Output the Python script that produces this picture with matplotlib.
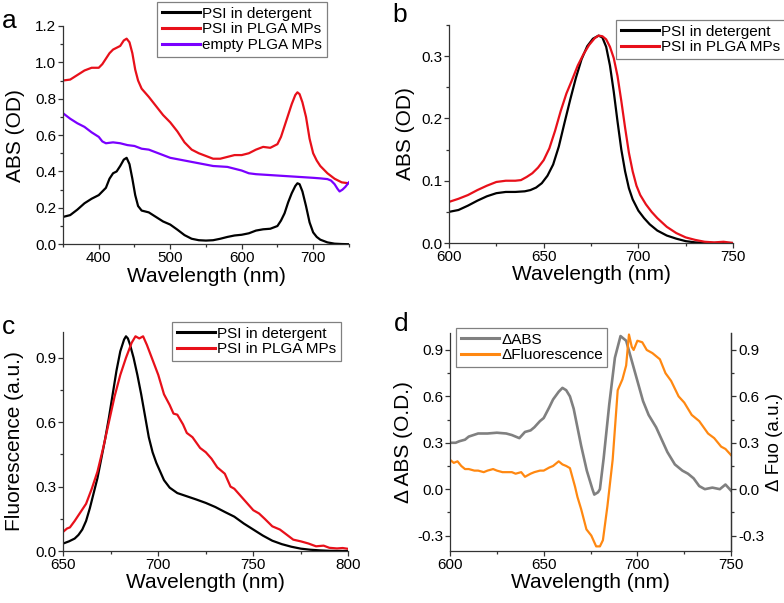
import matplotlib
matplotlib.use("Agg")
import matplotlib.pyplot as plt
from matplotlib.ticker import MultipleLocator, FormatStrFormatter

plt.rcParams['font.family'] = ['Liberation Sans', 'DejaVu Sans']

# ---------------- Panel a data ----------------
a_wl_black = [350, 360, 370, 380, 390, 400, 410, 415, 420, 425, 430, 435, 439, 443, 447, 451, 455, 460,
              470, 480, 490, 500, 510, 520, 530, 540, 550, 560, 570, 580, 590, 600, 610, 620, 630, 640,
              650, 655, 660, 665, 670, 675, 678, 681, 685, 690, 695, 700, 705, 710, 720, 730, 740, 750]
a_black = [0.15, 0.16, 0.19, 0.225, 0.25, 0.27, 0.31, 0.36, 0.39, 0.40, 0.43, 0.465, 0.475, 0.44, 0.36, 0.27,
           0.21, 0.185, 0.175, 0.15, 0.125, 0.108, 0.08, 0.05, 0.03, 0.022, 0.02, 0.022, 0.03, 0.04, 0.048,
           0.052, 0.06, 0.075, 0.082, 0.085, 0.10, 0.13, 0.17, 0.23, 0.28, 0.32, 0.335, 0.33, 0.29, 0.21, 0.12,
           0.065, 0.04, 0.025, 0.01, 0.003, 0.001, 0.0]

a_wl_red = [350, 360, 370, 380, 390, 400, 405, 410, 415, 420, 425, 430, 435, 439, 443, 447, 451, 455, 460,
            470, 480, 490, 500, 510, 520, 530, 540, 550, 560, 570, 580, 590, 600, 610, 620, 630, 640, 650,
            655, 660, 665, 670, 675, 678, 681, 685, 690, 695, 700, 705, 710, 720, 730, 740, 750]
a_red = [0.90, 0.905, 0.93, 0.955, 0.97, 0.97, 0.99, 1.02, 1.05, 1.07, 1.08, 1.09, 1.12, 1.13, 1.11, 1.05,
         0.96, 0.90, 0.855, 0.81, 0.76, 0.71, 0.67, 0.62, 0.56, 0.52, 0.50, 0.485, 0.47, 0.47, 0.48, 0.49,
         0.49, 0.50, 0.52, 0.535, 0.53, 0.55, 0.59, 0.65, 0.71, 0.77, 0.82, 0.835, 0.825, 0.78, 0.70, 0.58,
         0.50, 0.46, 0.43, 0.39, 0.36, 0.34, 0.335]

a_wl_purple = [350, 360, 370, 380, 390, 400, 405, 410, 420, 430, 440, 450, 460, 470, 480, 490, 500, 520,
               540, 560, 580, 600, 610, 620, 640, 660, 680, 700, 710, 720, 725, 730, 734, 737, 741, 745, 750]
a_purple = [0.72, 0.69, 0.665, 0.645, 0.615, 0.59, 0.565, 0.555, 0.56, 0.555, 0.545, 0.54, 0.525, 0.52,
            0.505, 0.49, 0.475, 0.46, 0.445, 0.43, 0.425, 0.405, 0.39, 0.385, 0.38, 0.375, 0.37, 0.365,
            0.362, 0.358, 0.35, 0.33, 0.305, 0.29, 0.30, 0.315, 0.34]

# ---------------- Panel b data ----------------
b_wl_black = [600, 605, 610, 615, 620, 625, 630, 635, 640, 643, 646, 649, 652, 655, 658, 661, 664, 667,
              670, 673, 676, 679, 681, 683, 685, 687, 689, 691, 693, 695, 697, 700, 703, 706, 710, 715,
              720, 725, 730, 740, 750]
b_black = [0.050, 0.053, 0.060, 0.068, 0.075, 0.080, 0.082, 0.082, 0.083, 0.085, 0.089, 0.096, 0.108,
           0.126, 0.155, 0.193, 0.230, 0.265, 0.295, 0.316, 0.328, 0.333, 0.330, 0.315, 0.285, 0.243,
           0.195, 0.150, 0.115, 0.088, 0.070, 0.052, 0.040, 0.030, 0.020, 0.012, 0.007, 0.003, 0.001,
           0.0, 0.0]

b_wl_red = [600, 605, 610, 615, 620, 625, 630, 635, 638, 641, 644, 647, 650, 653, 656, 659, 662, 665, 668,
            671, 674, 677, 679, 681, 683, 685, 687, 689, 691, 693, 695, 697, 699, 701, 704, 707, 710, 715,
            720, 725, 730, 735, 740, 745, 750]
b_red = [0.066, 0.071, 0.077, 0.085, 0.092, 0.098, 0.100, 0.100, 0.101, 0.106, 0.112, 0.121, 0.133, 0.152,
         0.180, 0.212, 0.240, 0.262, 0.285, 0.303, 0.318, 0.329, 0.333, 0.332, 0.327, 0.315, 0.297, 0.268,
         0.228, 0.185, 0.145, 0.115, 0.092, 0.077, 0.062, 0.050, 0.040, 0.026, 0.016, 0.009, 0.005, 0.002,
         0.001, 0.002, 0.0]

# ---------------- Panel c data ----------------
c_wl_black = [650, 653, 656, 658, 660, 662, 664, 666, 668, 670, 672, 674, 676, 678, 680, 682, 683, 684,
              685, 687, 689, 691, 693, 695, 697, 699, 701, 703, 706, 710, 715, 720, 725, 730, 735, 740,
              745, 750, 755, 760, 765, 770, 775, 780, 785, 790, 800]
c_black = [0.035, 0.045, 0.058, 0.075, 0.10, 0.14, 0.20, 0.27, 0.34, 0.43, 0.52, 0.62, 0.73, 0.84, 0.93,
           0.985, 1.0, 0.99, 0.965, 0.90, 0.82, 0.73, 0.63, 0.53, 0.46, 0.41, 0.37, 0.33, 0.295, 0.27,
           0.255, 0.24, 0.224, 0.205, 0.182, 0.16, 0.128, 0.10, 0.072, 0.048, 0.032, 0.02, 0.011, 0.006,
           0.003, 0.001, 0.0]

c_wl_red = [650, 652, 653.5, 656, 659, 662, 665, 668, 671, 674, 677, 680, 683, 686, 688, 690, 692, 694,
            697, 700, 703, 706, 708, 710, 713, 715, 718, 722, 725, 728, 731, 735, 738, 740, 744, 747, 750,
            753, 756, 760, 764, 767, 771, 775, 779, 783, 787, 790, 794, 797, 800]
c_red = [0.09, 0.105, 0.11, 0.14, 0.18, 0.22, 0.29, 0.37, 0.48, 0.60, 0.72, 0.82, 0.90, 0.97, 1.0, 0.99,
         1.0, 0.96, 0.89, 0.82, 0.73, 0.68, 0.64, 0.635, 0.59, 0.55, 0.53, 0.48, 0.46, 0.43, 0.39, 0.36,
         0.30, 0.29, 0.25, 0.22, 0.19, 0.175, 0.15, 0.115, 0.10, 0.08, 0.053, 0.045, 0.035, 0.022, 0.025,
         0.015, 0.012, 0.014, 0.01]

# ---------------- Panel d data ----------------
d_wl_abs = [600, 603, 605, 608, 610, 615, 620, 625, 630, 633, 635, 637, 640, 643, 645, 648, 650, 653, 655,
            658, 660, 662, 664, 666, 668, 670, 673, 676, 677, 679, 680, 682, 685, 688, 691, 694, 697, 700,
            703, 706, 710, 713, 716, 720, 724, 727, 730, 733, 736, 740, 744, 747, 750]
d_abs = [0.30, 0.30, 0.31, 0.32, 0.34, 0.36, 0.36, 0.365, 0.36, 0.35, 0.34, 0.33, 0.37, 0.38, 0.40, 0.44,
         0.46, 0.53, 0.58, 0.63, 0.655, 0.64, 0.60, 0.52, 0.40, 0.28, 0.12, 0.0, -0.035, -0.02, 0.0, 0.2,
         0.55, 0.85, 0.99, 0.96, 0.83, 0.70, 0.57, 0.48, 0.40, 0.32, 0.24, 0.16, 0.12, 0.10, 0.07, 0.02, 0.0,
         0.01, 0.0, 0.03, -0.01]

d_wl_fl = [600, 602, 604, 606, 608, 610, 613, 615, 618, 620, 623, 625, 628, 630, 633, 635, 638, 640, 643,
           645, 648, 650, 653, 655, 658, 660, 662, 664, 666.7, 668, 670, 672.8, 675.4, 678, 680, 681.6, 684,
           686.8, 689.5, 692, 694, 695.5, 697, 698, 700, 702.6, 705, 708, 712, 715, 718, 722, 725, 729, 733,
           737.7, 741, 744.7, 747, 750]
d_fl = [0.19, 0.17, 0.18, 0.15, 0.13, 0.13, 0.12, 0.12, 0.11, 0.12, 0.13, 0.12, 0.11, 0.11, 0.11, 0.10,
        0.11, 0.08, 0.10, 0.11, 0.12, 0.12, 0.14, 0.15, 0.18, 0.16, 0.15, 0.136, 0.017, -0.05, -0.13, -0.26,
        -0.30, -0.37, -0.37, -0.33, -0.11, 0.19, 0.64, 0.71, 0.80, 1.0, 0.92, 0.90, 0.96, 0.95, 0.90, 0.88,
        0.84, 0.75, 0.70, 0.60, 0.56, 0.48, 0.44, 0.36, 0.33, 0.275, 0.26, 0.22]

BLACK = '#000000'
RED = '#e8101a'
PURPLE = '#7a00ff'
GRAY = '#808080'
ORANGE = '#ff8811'

LW = 1.6
TICK_FS = 11
LAB_FS = 15
LEG_FS = 11

fig = plt.figure(figsize=(7.84, 6.03), dpi=100)


def style_axis(ax, right=False):
    ax.spines['top'].set_visible(False)
    if not right:
        ax.spines['right'].set_visible(False)
    for s in ax.spines.values():
        s.set_linewidth(0.9)
        s.set_color('#333333')
    ax.tick_params(which='major', direction='out', length=3.5, width=0.9, labelsize=TICK_FS,
                   colors='#333333', labelcolor='black', pad=1.5)
    ax.tick_params(which='minor', direction='out', length=2, width=0.9, colors='#333333')
    ax.tick_params(top=False, right=False, which='both')


def add_legend(ax, x, y, fs=LEG_FS):
    leg = ax.legend(loc='upper left', bbox_to_anchor=(x, y), bbox_transform=fig.transFigure,
                    fontsize=fs, frameon=True, fancybox=False, framealpha=1, edgecolor='#808080',
                    borderpad=0.3, borderaxespad=0, labelspacing=0.12, handlelength=2.5,
                    handletextpad=0.15)
    leg.get_frame().set_linewidth(0.9)
    for line in leg.get_lines():
        line.set_linewidth(2.2)
    return leg


# ---- Panel a ----
axa = fig.add_axes([0.0804, 0.595, 0.3646, 0.362])
axa.plot(a_wl_black, a_black, color=BLACK, lw=LW, label='PSI in detergent')
axa.plot(a_wl_red, a_red, color=RED, lw=LW, label='PSI in PLGA MPs')
axa.plot(a_wl_purple, a_purple, color=PURPLE, lw=LW, label='empty PLGA MPs')
axa.set_xlim(350, 750)
axa.set_ylim(0, 1.2)
axa.set_xticks([400, 500, 600, 700])
axa.xaxis.set_minor_locator(MultipleLocator(50))
axa.yaxis.set_major_locator(MultipleLocator(0.2))
axa.yaxis.set_minor_locator(MultipleLocator(0.1))
axa.yaxis.set_major_formatter(FormatStrFormatter('%.1f'))
style_axis(axa)
axa.set_xlabel('Wavelength (nm)', fontsize=LAB_FS, labelpad=1)
axa.set_ylabel('ABS (OD)', fontsize=LAB_FS, labelpad=7)
add_legend(axa, 0.2003, 0.9967)

# ---- Panel b ----
axb = fig.add_axes([0.5727, 0.597, 0.3623, 0.3615])
axb.plot(b_wl_black, b_black, color=BLACK, lw=LW, label='PSI in detergent')
axb.plot(b_wl_red, b_red, color=RED, lw=LW, label='PSI in PLGA MPs')
axb.set_xlim(600, 750)
axb.set_ylim(0, 0.35)
axb.xaxis.set_major_locator(MultipleLocator(50))
axb.xaxis.set_minor_locator(MultipleLocator(25))
axb.yaxis.set_major_locator(MultipleLocator(0.1))
axb.yaxis.set_minor_locator(MultipleLocator(0.05))
axb.yaxis.set_major_formatter(FormatStrFormatter('%.1f'))
style_axis(axb)
axb.set_xlabel('Wavelength (nm)', fontsize=LAB_FS, labelpad=1)
axb.set_ylabel('ABS (OD)', fontsize=LAB_FS, labelpad=4)
add_legend(axb, 0.7857, 0.9668)

# ---- Panel c ----
axc = fig.add_axes([0.0807, 0.0862, 0.3636, 0.3632])
axc.plot(c_wl_black, c_black, color=BLACK, lw=LW, label='PSI in detergent')
axc.plot(c_wl_red, c_red, color=RED, lw=LW, label='PSI in PLGA MPs')
axc.set_xlim(650, 800)
axc.set_ylim(0, 1.02)
axc.xaxis.set_major_locator(MultipleLocator(50))
axc.xaxis.set_minor_locator(MultipleLocator(25))
axc.yaxis.set_major_locator(MultipleLocator(0.3))
axc.yaxis.set_minor_locator(MultipleLocator(0.15))
axc.yaxis.set_major_formatter(FormatStrFormatter('%.1f'))
style_axis(axc)
axc.set_xlabel('Wavelength (nm)', fontsize=LAB_FS, labelpad=1)
axc.set_ylabel('Fluorescence (a.u.)', fontsize=LAB_FS, labelpad=8)
add_legend(axc, 0.2194, 0.466)

# ---- Panel d ----
axd = fig.add_axes([0.574, 0.0862, 0.3585, 0.3616])
axd.plot(d_wl_abs, d_abs, color=GRAY, lw=LW + 0.3, label='\u0394ABS')
axd.plot(d_wl_fl, d_fl, color=ORANGE, lw=LW, label='\u0394Fluorescence')
axd.set_xlim(600, 750)
axd.set_ylim(-0.4, 1.01)
axd.xaxis.set_major_locator(MultipleLocator(50))
axd.xaxis.set_minor_locator(MultipleLocator(25))
axd.yaxis.set_major_locator(MultipleLocator(0.3))
axd.yaxis.set_minor_locator(MultipleLocator(0.15))
axd.yaxis.set_major_formatter(FormatStrFormatter('%.1f'))
style_axis(axd, right=True)
axd.set_xlabel('Wavelength (nm)', fontsize=LAB_FS, labelpad=1)
axd.set_ylabel('\u0394 ABS (O.D.)', fontsize=LAB_FS, labelpad=3)
axd2 = axd.twinx()
axd2.set_ylim(-0.4, 1.01)
axd2.yaxis.set_major_locator(MultipleLocator(0.3))
axd2.yaxis.set_minor_locator(MultipleLocator(0.15))
axd2.yaxis.set_major_formatter(FormatStrFormatter('%.1f'))
for s in ['top', 'left', 'bottom']:
    axd2.spines[s].set_visible(False)
axd2.spines['right'].set_linewidth(0.9)
axd2.spines['right'].set_color('#333333')
axd2.tick_params(which='major', direction='out', length=3.5, width=0.9, labelsize=TICK_FS,
                 colors='#333333', labelcolor='black', pad=1.5)
axd2.tick_params(which='minor', direction='out', length=2, width=0.9, colors='#333333')
axd2.set_ylabel('\u0394 Fuo (a.u.)', fontsize=13.5, labelpad=1)
add_legend(axd, 0.5816, 0.456)

# ---- Panel letters ----
fig.text(0.003, 0.985, 'a', fontsize=19, va='top', ha='left')
fig.text(0.5, 0.995, 'b', fontsize=19, va='top', ha='left')
fig.text(0.003, 0.478, 'c', fontsize=19, va='top', ha='left')
fig.text(0.502, 0.483, 'd', fontsize=19, va='top', ha='left')

fig.savefig('out.png', dpi=100)
